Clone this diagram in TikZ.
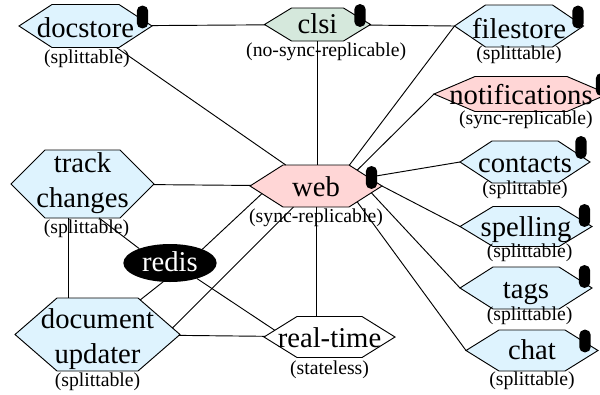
\documentclass[tikz,border=0pt]{standalone}
\usepackage{fontspec}
\setmainfont{Liberation Serif}
\usepackage{tikz}
\usetikzlibrary{positioning,shapes.geometric}
\definecolor{splitblue}{RGB}{222,243,254}
\definecolor{syncpink}{RGB}{255,214,214}
\definecolor{nosyncgreen}{RGB}{213,232,220}
\newdimen\pxunit \pxunit=0.75pt
\newcommand{\wide}[2][8]{\makebox[0pt]{\smash{\raisebox{-#1\pxunit}{#2}}}}
\newdimen\hexL \newdimen\hexB \newdimen\hexR \newdimen\hexT \newdimen\hexM
\newdimen\hexCx \newdimen\hexCy
\makeatletter
\pgfkeys{/tikz/hexa pointer/.initial=10pt}
\pgfdeclareshape{hexabox}{
	\inheritsavedanchors[from=rectangle]
	\inheritanchor[from=rectangle]{center}
	\inheritanchor[from=rectangle]{mid}
	\inheritanchor[from=rectangle]{base}
	\inheritanchor[from=rectangle]{north}
	\inheritanchor[from=rectangle]{south}
	\inheritanchor[from=rectangle]{east}
	\inheritanchor[from=rectangle]{west}
	\savedmacro\hexpointer{\pgfmathsetmacro\hexpointer{\pgfkeysvalueof{/tikz/hexa pointer}}}
	\backgroundpath{
		\southwest \hexL=\pgf@x \hexB=\pgf@y
		\northeast \hexR=\pgf@x \hexT=\pgf@y
		\hexM=.5\hexB \advance\hexM by .5\hexT
		\pgfpathmoveto{\pgfqpoint{\hexL}{\hexM}}
		\pgfpathlineto{\pgfpointadd{\pgfqpoint{\hexL}{\hexT}}{\pgfqpoint{\hexpointer pt}{0pt}}}
		\pgfpathlineto{\pgfpointadd{\pgfqpoint{\hexR}{\hexT}}{\pgfqpoint{-\hexpointer pt}{0pt}}}
		\pgfpathlineto{\pgfqpoint{\hexR}{\hexM}}
		\pgfpathlineto{\pgfpointadd{\pgfqpoint{\hexR}{\hexB}}{\pgfqpoint{-\hexpointer pt}{0pt}}}
		\pgfpathlineto{\pgfpointadd{\pgfqpoint{\hexL}{\hexB}}{\pgfqpoint{\hexpointer pt}{0pt}}}
		\pgfpathclose
	}
	\anchorborder{
		\hexL=\pgf@x \hexB=\pgf@y
		\pgfpointnormalised{\pgfqpoint{\hexL}{\hexB}}
		\edef\hexux{\pgf@sys@tonumber\pgf@x}
		\edef\hexuy{\pgf@sys@tonumber\pgf@y}
		\southwest \hexCx=\pgf@x \hexCy=\pgf@y
		\northeast \hexR=\pgf@x \hexT=\pgf@y
		\advance\hexR by -\hexCx \advance\hexT by -\hexCy
		\hexR=.5\hexR \hexT=.5\hexT
		\advance\hexCx by \hexR \advance\hexCy by \hexT
		\edef\hexw{\pgf@sys@tonumber\hexR}
		\edef\hexh{\pgf@sys@tonumber\hexT}
		\pgfmathsetmacro\hextest{abs(\hexuy)*(\hexw-\hexpointer)-\hexh*abs(\hexux)}
		\ifdim\hextest pt<0pt
			\pgfmathsetmacro\hexdist{\hexw/(abs(\hexux)+\hexpointer*abs(\hexuy)/\hexh)}
		\else
			\pgfmathsetmacro\hexdist{\hexh/abs(\hexuy)}
		\fi
		\hexL=\hexux pt \hexL=\hexdist\hexL
		\hexB=\hexuy pt \hexB=\hexdist\hexB
		\pgf@x=\hexL \advance\pgf@x by \hexCx
		\pgf@y=\hexB \advance\pgf@y by \hexCy
	}
}
\makeatother
\tikzset{
    %Define style for services
    hexa/.style n args={3}{
           shape=hexabox, hexa pointer=#3*0.75, draw, line width=0.7pt,
           inner sep=0pt, outer sep=0pt, align=center,
           font=\fontsize{21.5}{26}\selectfont,
           minimum width=#1*0.75pt, minimum height=#2*0.75pt},
    %Define style for replication text
    sub/.style={
           inner sep=0pt, font=\fontsize{14.8}{16}\selectfont},
    %Define style for data stores
    db/.style={
           fill=black, rounded corners=4pt, inner sep=0pt,
           minimum width=8.6pt, minimum height=17pt},
    % Define link style
    pil/.style={
           line width=0.7pt}
}
\begin{document}
\begin{tikzpicture}[x=0.75pt, y=-0.75pt]
	\useasboundingbox (0,0) rectangle (600,394);

	% Top row
	\node[hexa={133}{43}{33}, fill=splitblue] (docstore) at (85.5,26) {\wide[11]{docstore}};
	\node[hexa={106}{33}{27}, fill=nosyncgreen] (clsi) at (317.5,24.5) {\wide[9]{clsi}};
	\node[hexa={129}{42}{31}, fill=splitblue] (filestore) at (519,26) {\wide[12.5]{filestore}};

	% Right column
	\node[hexa={174}{35}{41}, fill=syncpink] (notifications) at (521,94) {\wide[10.2]{notifications}};
	\node[hexa={130}{42}{32}, fill=splitblue] (contacts) at (525,162) {\wide[10]{contacts}};
	\node[hexa={132}{40}{33}, fill=splitblue] (spelling) at (526,226.5) {\wide[9.5]{spelling}};
	\node[hexa={132}{42}{33}, fill=splitblue] (tags) at (526,288) {\wide[10.3]{tags}};
	\node[hexa={132}{41}{33}, fill=splitblue] (chat) at (532,350.5) {\wide[8.5]{chat}};

	% Middle and left
	\node[hexa={132}{42}{33}, fill=syncpink] (web) at (316,186) {\wide[10]{web}};
	\node[hexa={143}{68}{34}, fill=splitblue] (track) at (82.5,184) {\wide[6.3]{track}\\\wide[6.3]{changes}};
	\node[hexa={165}{73}{42}, fill=splitblue] (updater) at (97.5,334.5) {\wide[11.3]{document}\\\wide[11.3]{updater}};
	\node[hexa={131}{41}{33}] (realtime) at (329.5,337) {\wide[10]{real-time}};
	\node[ellipse, fill=black, text=white, inner sep=0pt, outer sep=0pt, minimum width=70pt, minimum height=28.5pt, font=\fontsize{21.5}{26}\selectfont] (redis) at (170,263) {\wide[8.3]{redis}};

	% Replication text
	\node[sub, below=1.5pt of docstore, xshift=1pt] (docstore-sub) {(splittable)};
	\node[sub, below=1.5pt of clsi, xshift=6.5pt] (clsi-sub) {(no-sync-replicable)};
	\node[sub, below=-1.1pt of filestore] (filestore-sub) {(splittable)};
	\node[sub, below=-0.4pt of notifications, xshift=3.7pt] (notifications-sub) {(sync-replicable)};
	\node[sub, below=-1.9pt of contacts] (contacts-sub) {(splittable)};
	\node[sub, below=-1.9pt of spelling, xshift=2.7pt] (spelling-sub) {(splittable)};
	\node[sub, below=-1.9pt of tags, xshift=2.7pt] (tags-sub) {(splittable)};
	\node[sub, below=0.4pt of chat] (chat-sub) {(splittable)};
	\node[sub, below=1.5pt of web] (web-sub) {(sync-replicable)};
	\node[sub, below=1.5pt of track, xshift=3pt] (track-sub) {(splittable)};
	\node[sub, below=1.5pt of updater] (updater-sub) {(splittable)};
	\node[sub, below=2.6pt of realtime] (realtime-sub) {(stateless)};

	% Data stores
	\node[db] (docstore-db) at (142.5,17) {};
	\node[db] (clsi-db) at (360,15.5) {};
	\node[db] (filestore-db) at (578,17) {};
	\node[db] (notifications-db) at (601.5,84.5) {};
	\node[db] (contacts-db) at (581,147.5) {};
	\node[db] (web-db) at (371.5,177.5) {};
	\node[db] (spelling-db) at (584.5,215.5) {};
	\node[db] (tags-db) at (584.5,276.5) {};
	\node[db] (chat-db) at (585,341) {};

	% Links
	\draw[pil] (docstore) -- (clsi);
	\draw[pil] (clsi) -- (filestore.west);
	\draw[pil] (docstore) -- (web);
	\draw[pil] (clsi.south) -- (clsi.south |- web.north);
	\draw[pil] (web.32.5) -- (filestore.west);
	\draw[pil] (web.21) -- (notifications.west);
	\draw[pil] (web) -- (contacts.west);
	\draw[pil] (web.east) -- (spelling.west);
	\draw[pil] (web.-7.3) -- (tags.west);
	\draw[pil] (web.-21) -- (chat.west);
	\draw[pil] (track) -- (web);
	\draw[pil] (track.-113) -- (track.-113 |- updater.north);
	\draw[pil] (track.-64) -- (redis.155);
	\draw[pil] (redis.23) -- (web.188.6);
	\draw[pil] (redis.250) -- (updater.39);
	\draw[pil] (redis.-30) -- (realtime.173);
	\draw[pil] (updater.5.5) -- (web.223.7);
	\draw[pil] (updater) -- (realtime);
	\draw[pil] (web.south) -- (web.south |- realtime.north);

\end{tikzpicture}
\end{document}
